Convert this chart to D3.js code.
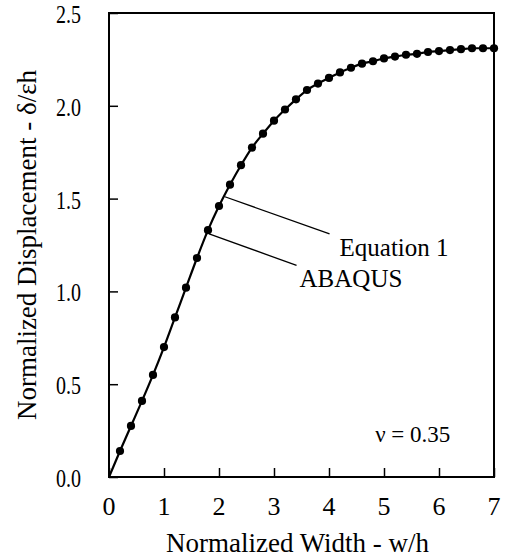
<!DOCTYPE html>
<html>
<head>
<meta charset="utf-8">
<script src="https://cdnjs.cloudflare.com/ajax/libs/d3/7.8.5/d3.min.js"></script>
<style>
  body { margin: 0; background: #fff; }
  svg { display: block; }
</style>
</head>
<body>
<div id="chart"></div>
<script>
// normalized width w/h for the ABAQUS points
var widths = [0.2, 0.4, 0.6, 0.8, 1.0, 1.2, 1.4, 1.6, 1.8, 2.0, 2.2, 2.4, 2.6, 2.8,
  3.0, 3.2, 3.4, 3.6, 3.8, 4.0, 4.2, 4.4, 4.6, 4.8, 5.0, 5.2, 5.4, 5.6, 5.8, 6.0,
  6.2, 6.4, 6.6, 6.8, 7.0];
// ABAQUS displacement d/eh
var abaqus = [0.14, 0.275, 0.41, 0.55, 0.70, 0.86, 1.02, 1.18, 1.33, 1.46, 1.575,
  1.68, 1.775, 1.85, 1.92, 1.98, 2.035, 2.085, 2.12, 2.15, 2.18, 2.205, 2.227, 2.24,
  2.255, 2.265, 2.275, 2.28, 2.29, 2.295, 2.30, 2.305, 2.31, 2.31, 2.31];
// Equation 1 curve
var eqWidths = [0, 0.2, 0.4, 0.6, 0.8, 1.0, 1.2, 1.4, 1.6, 1.8, 2.0, 2.2, 2.4, 2.6,
  2.8, 3.0, 3.2, 3.4, 3.6, 3.8, 4.0, 4.2, 4.4, 4.6, 4.8, 5.0, 5.2, 5.4, 5.6, 5.8,
  6.0, 6.2, 6.4, 6.6, 6.8, 7.0];
var equation1 = [0, 0.14, 0.275, 0.41, 0.55, 0.70, 0.86, 1.02, 1.18, 1.33, 1.46,
  1.575, 1.68, 1.775, 1.85, 1.92, 1.98, 2.035, 2.085, 2.12, 2.15, 2.18, 2.205, 2.227,
  2.24, 2.255, 2.265, 2.275, 2.28, 2.29, 2.295, 2.30, 2.305, 2.31, 2.31, 2.31];
var xTicks = [0, 1, 2, 3, 4, 5, 6, 7];
var yTicks = [0, 0.5, 1.0, 1.5, 2.0, 2.5];
// leader labels: point on the curve -> end of leader (data units)
var labels = [
  { text: "Equation 1", x0: 2.107, y0: 1.51, x1: 4.01, y1: 1.31, dx: 10 },
  { text: "ABAQUS", x0: 1.82, y0: 1.31, x1: 3.41, y1: 1.14, dx: 3 }
];

var W = 515, H = 560;
var m = { left: 109, top: 13, right: 21, bottom: 83 };
var font = "'Liberation Serif', 'Times New Roman', serif";

var svg = d3.select("#chart").append("svg")
  .attr("width", W)
  .attr("height", H);

var x = d3.scaleLinear().domain([0, 7]).range([m.left, W - m.right]);
var y = d3.scaleLinear().domain([0, 2.5]).range([H - m.bottom, m.top]);

// ticks (inward)
svg.append("g")
  .attr("transform", "translate(0," + y(0) + ")")
  .call(d3.axisBottom(x).tickValues(xTicks).tickSize(-9).tickFormat(""))
  .call(function (g) {
    g.select(".domain").remove();
    g.selectAll("line").attr("stroke", "#000").attr("stroke-width", 1.5);
  });
svg.append("g")
  .attr("transform", "translate(" + x(0) + ",0)")
  .call(d3.axisLeft(y).tickValues(yTicks).tickSize(-9).tickFormat(""))
  .call(function (g) {
    g.select(".domain").remove();
    g.selectAll("line").attr("stroke", "#000").attr("stroke-width", 1.5);
  });

// tick labels
svg.selectAll(".xlab")
  .data(xTicks)
  .enter()
  .append("text")
  .attr("class", "xlab")
  .attr("x", function (d) { return x(d); })
  .attr("y", y(0) + 38)
  .attr("text-anchor", "middle")
  .style("font-family", font)
  .style("font-size", "26px")
  .text(function (d) { return d; });

svg.selectAll(".ylab")
  .data(yTicks)
  .enter()
  .append("text")
  .attr("class", "ylab")
  .attr("transform", function (d) {
    return "translate(" + (x(0) - 28) + "," + (y(d) + 10) + ") scale(0.8,1)";
  })
  .attr("text-anchor", "end")
  .style("font-family", font)
  .style("font-size", "25px")
  .text(function (d) { return d3.format(".1f")(d); });

// frame
svg.append("rect")
  .attr("x", x(0))
  .attr("y", y(2.5))
  .attr("width", x(7) - x(0))
  .attr("height", y(0) - y(2.5))
  .attr("fill", "none")
  .attr("stroke", "#000")
  .attr("stroke-width", 2);

// Equation 1 curve
var line = d3.line()
  .x(function (d, i) { return x(eqWidths[i]); })
  .y(function (d) { return y(d); })
  .curve(d3.curveMonotoneX);

svg.append("path")
  .datum(equation1)
  .attr("d", line)
  .attr("fill", "none")
  .attr("stroke", "#000")
  .attr("stroke-width", 2.2);

// ABAQUS points
svg.selectAll(".pt")
  .data(abaqus)
  .enter()
  .append("circle")
  .attr("class", "pt")
  .attr("cx", function (d, i) { return x(widths[i]); })
  .attr("cy", function (d) { return y(d); })
  .attr("r", 4.1)
  .attr("fill", "#000");

// leaders
svg.selectAll(".leader")
  .data(labels)
  .enter()
  .append("line")
  .attr("class", "leader")
  .attr("x1", function (d) { return x(d.x0); })
  .attr("y1", function (d) { return y(d.y0); })
  .attr("x2", function (d) { return x(d.x1); })
  .attr("y2", function (d) { return y(d.y1); })
  .attr("stroke", "#000")
  .attr("stroke-width", 1.3);

svg.selectAll(".ltext")
  .data(labels)
  .enter()
  .append("text")
  .attr("class", "ltext")
  .attr("x", function (d) { return x(d.x1) + d.dx; })
  .attr("y", function (d) { return y(d.y1) + 22; })
  .style("font-family", font)
  .style("font-size", "25px")
  .text(function (d) { return d.text; });

// poisson ratio note
svg.append("text")
  .attr("x", x(4.84))
  .attr("y", y(0.19))
  .style("font-family", font)
  .style("font-size", "23px")
  .text("ν = 0.35");

// axis titles
svg.append("text")
  .attr("x", (x(0) + x(7)) / 2 - 4)
  .attr("y", 552)
  .attr("text-anchor", "middle")
  .style("font-family", font)
  .style("font-size", "27px")
  .text("Normalized Width - w/h");

svg.append("text")
  .attr("transform", "translate(36," + ((y(0) + y(2.5)) / 2) + ") rotate(-90)")
  .attr("text-anchor", "middle")
  .style("font-family", font)
  .style("font-size", "27px")
  .text("Normalized Displacement - δ/εh");
</script>
</body>
</html>
